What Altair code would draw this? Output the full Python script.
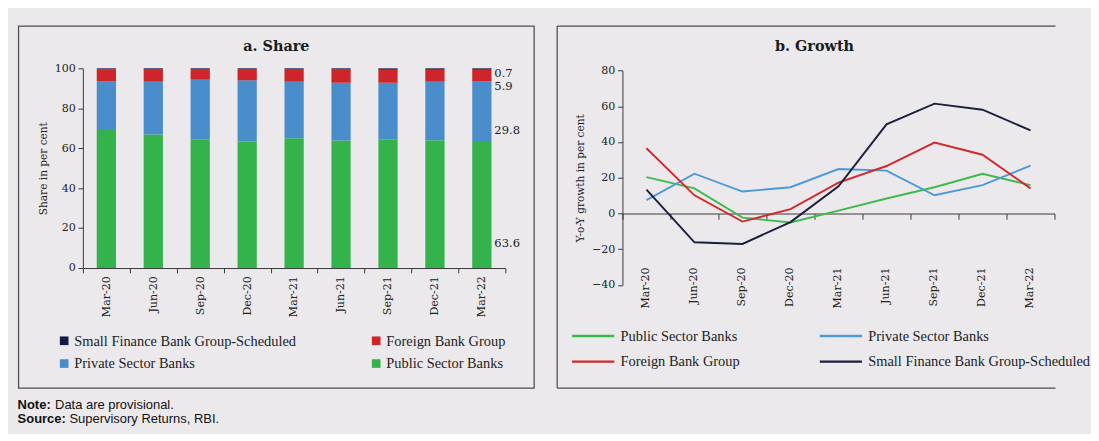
import altair as alt
import pandas as pd

quarters = ["Mar-20", "Jun-20", "Sep-20", "Dec-20", "Mar-21", "Jun-21", "Sep-21", "Dec-21", "Mar-22"]

# Panel a: share (per cent)
share_public = [69.1, 66.9, 64.5, 63.4, 65.0, 63.9, 64.3, 64.0, 63.6]
share_private = [24.5, 26.7, 29.8, 30.6, 28.3, 28.9, 28.5, 29.3, 29.8]
share_foreign = [5.9, 5.8, 5.1, 5.4, 6.1, 6.6, 6.5, 6.0, 5.9]
share_sfb = [0.5, 0.6, 0.6, 0.6, 0.6, 0.6, 0.7, 0.7, 0.7]

# Panel b: Y-o-Y growth (per cent)
growth_public = [20.4, 14.1, -2.3, -5.0, 1.6, 8.4, 14.7, 22.2, 15.9]
growth_private = [7.5, 22.3, 12.3, 14.7, 24.9, 24.0, 10.2, 15.9, 26.8]
growth_foreign = [36.5, 10.2, -4.5, 2.5, 17.3, 26.6, 39.7, 32.9, 14.1]
growth_sfb = [13.4, -16.1, -17.0, -4.8, 15.2, 49.9, 61.5, 58.1, 46.5]

PUB = "Public Sector Banks"
PRI = "Private Sector Banks"
FOR = "Foreign Bank Group"
SFB = "Small Finance Bank Group-Scheduled"

# Mar-22 end labels and the share level at which each label sits
end_labels = ["0.7", "5.9", "29.8", "63.6"]
end_label_at = [97.6, 90.9, 69.2, 12.5]

BG = "#ebe9ec"
BORDER = "#4d4d4d"
SERIF = "DejaVu Serif"
LEG = "Liberation Serif"
FG = "#222222"

PW_A, PW_B, PH = 537, 519, 377

share_rows = []
for grp, vals, rank in [(PUB, share_public, 0), (PRI, share_private, 1),
                        (FOR, share_foreign, 2), (SFB, share_sfb, 3)]:
    for q, v in zip(quarters, vals):
        share_rows.append({"quarter": q, "group": grp, "value": v, "rank": rank})
df_share = pd.DataFrame(share_rows)

growth_rows = []
for grp, vals in [(PUB, growth_public), (PRI, growth_private),
                  (FOR, growth_foreign), (SFB, growth_sfb)]:
    for q, v in zip(quarters, vals):
        growth_rows.append({"quarter": q, "group": grp, "value": v})
df_growth = pd.DataFrame(growth_rows)

df_end = pd.DataFrame({"quarter": ["Mar-22"] * 4, "label": end_labels, "pos": end_label_at})
one = pd.DataFrame({"k": [0]})


def label(txt, x, y, size=13.5, weight="normal", font="Liberation Sans", align="left", color="#111"):
    return alt.Chart(pd.DataFrame({"t": [txt]})).mark_text(
        font=font, fontSize=size, fontWeight=weight, color=color, align=align,
        baseline="middle").encode(text="t:N", x=alt.value(x), y=alt.value(y))


def hline(y, x1, x2):
    return alt.Chart(one).mark_rule(color=BORDER, strokeWidth=1.3).encode(
        x=alt.value(x1), x2=alt.value(x2), y=alt.value(y))


def vline(x, y1, y2):
    return alt.Chart(one).mark_rule(color=BORDER, strokeWidth=1.3).encode(
        x=alt.value(x), y=alt.value(y1), y2=alt.value(y2))


# ---------------- Panel a ----------------
xa_scale = alt.Scale(range=[67, 507], paddingInner=0, paddingOuter=0)
ya_scale = alt.Scale(domain=[0, 100], range=[252, 44])

bars = alt.Chart(df_share).mark_bar(width=alt.RelativeBandSize(0.41)).encode(
    x=alt.X("quarter:N", sort=quarters, scale=xa_scale,
            axis=alt.Axis(title=None, labelAngle=-90, tickBand="extent", offset=-(PH - 252),
                          tickSize=5, labelPadding=3, domainColor="#333", tickColor="#333",
                          labelFont=SERIF, labelFontSize=11.5, labelColor=FG)),
    y=alt.Y("value:Q", stack="zero", scale=ya_scale,
            axis=alt.Axis(title="Share in per cent", values=[0, 20, 40, 60, 80, 100], grid=False,
                          offset=-67, tickSize=5, labelPadding=3, domainColor="#333", tickColor="#333",
                          labelFont=SERIF, labelFontSize=11.5, labelColor=FG,
                          titleFont=SERIF, titleFontSize=11, titleFontWeight="normal", titleColor=FG,
                          titlePadding=6)),
    color=alt.Color("group:N",
                    scale=alt.Scale(domain=[SFB, PRI, FOR, PUB],
                                    range=["#131b44", "#4a8dcb", "#cd2529", "#34b24b"]),
                    legend=alt.Legend(title=None, orient="none", legendX=40, legendY=320,
                                      columns=2, columnPadding=75, rowPadding=8,
                                      symbolType="square", symbolSize=81, symbolStrokeWidth=0,
                                      labelFont=LEG, labelFontSize=15, labelColor=FG,
                                      labelOffset=3, labelLimit=0)),
    order=alt.Order("rank:Q"),
)

end_text = alt.Chart(df_end).mark_text(align="left", baseline="middle", dx=13,
                                       font=SERIF, fontSize=12, color=FG).encode(
    x=alt.X("quarter:N", sort=quarters, scale=xa_scale),
    y=alt.Y("pos:Q", scale=ya_scale),
    text="label:N",
)

border_a = alt.Chart(one).mark_rect(fill=None, stroke=BORDER, strokeWidth=1.3).encode(
    x=alt.value(0), x2=alt.value(PW_A), y=alt.value(0), y2=alt.value(PH))

title_a = label("a. Share", PW_A / 2, 21, size=15, weight="bold", font=SERIF, align="center",
                color="#1a1a1a")

panel_a = alt.layer(
    border_a, bars, end_text, title_a,
    label("Note:", -1, 395, weight="bold"),
    label("Data are provisional.", 38, 395),
    label("Source:", -1, 409, weight="bold"),
    label("Supervisory Returns, RBI.", 53, 409),
).properties(width=PW_A, height=PH)

# ---------------- Panel b ----------------
xb_scale = alt.Scale(type="band", range=[68, 518], paddingInner=0, paddingOuter=0)
yb_scale = alt.Scale(domain=[-40, 80], range=[269.7, 46.3])
zero_px = 269.7 - (40 / 120) * (269.7 - 46.3)

color_b = alt.Color("group:N",
                    scale=alt.Scale(domain=[PUB, FOR, PRI, SFB],
                                    range=["#3dba4e", "#d1282c", "#4b9ad8", "#1a1f3e"]),
                    legend=alt.Legend(title=None, orient="none", legendX=47, legendY=315,
                                      columns=2, columnPadding=77, rowPadding=11,
                                      symbolType="M-7.8,0H1", symbolSize=100,
                                      symbolStrokeWidth=2.5,
                                      labelFont=LEG, labelFontSize=15, labelColor=FG,
                                      labelOffset=4, labelLimit=0))

lines = alt.Chart(df_growth).mark_line(strokeWidth=2).encode(
    x=alt.X("quarter:N", sort=quarters, bandPosition=0.5, scale=xb_scale,
            axis=alt.Axis(title=None, labels=False, tickBand="extent", offset=zero_px - PH,
                          tickSize=6, domainColor="#333", tickColor="#333")),
    y=alt.Y("value:Q", scale=yb_scale,
            axis=alt.Axis(title="Y-o-Y growth in per cent", values=[-40, -20, 0, 20, 40, 60, 80],
                          grid=False, offset=-68, tickSize=5, labelPadding=3,
                          domainColor="#333", tickColor="#333",
                          labelFont=SERIF, labelFontSize=11.5, labelColor=FG,
                          titleFont=SERIF, titleFontSize=11, titleFontWeight="normal", titleColor=FG,
                          titlePadding=6)),
    color=color_b,
)

label_axis = alt.Chart(df_growth).mark_point(opacity=0).encode(
    x=alt.X("quarter:N", sort=quarters, bandPosition=0.5, scale=xb_scale,
            axis=alt.Axis(title=None, orient="top", labelAngle=-90, labelAlign="right",
                          labelBaseline="middle", ticks=False, domain=False, tickSize=0,
                          labelPadding=0, offset=-251,
                          labelFont=SERIF, labelFontSize=11.5, labelColor=FG)),
    y=alt.Y("value:Q", scale=yb_scale),
)

title_b = label("b. Growth", 268, 21, size=15, weight="bold", font=SERIF, align="center",
                color="#1a1a1a")

panel_b = alt.layer(
    hline(0, 0, PW_B), hline(PH, 0, PW_B), vline(0, 0, PH),
    lines, label_axis, title_b,
).resolve_axis(x="independent").properties(width=PW_B, height=PH)

chart = alt.hconcat(panel_a, panel_b, spacing=22).resolve_scale(color="independent").configure(
    background=BG,
    padding={"left": 5, "top": 9, "right": 0, "bottom": 0},
).configure_view(strokeWidth=0, fill=BG)

chart.save("out.html", embed_options={"renderer": "svg", "actions": False})
